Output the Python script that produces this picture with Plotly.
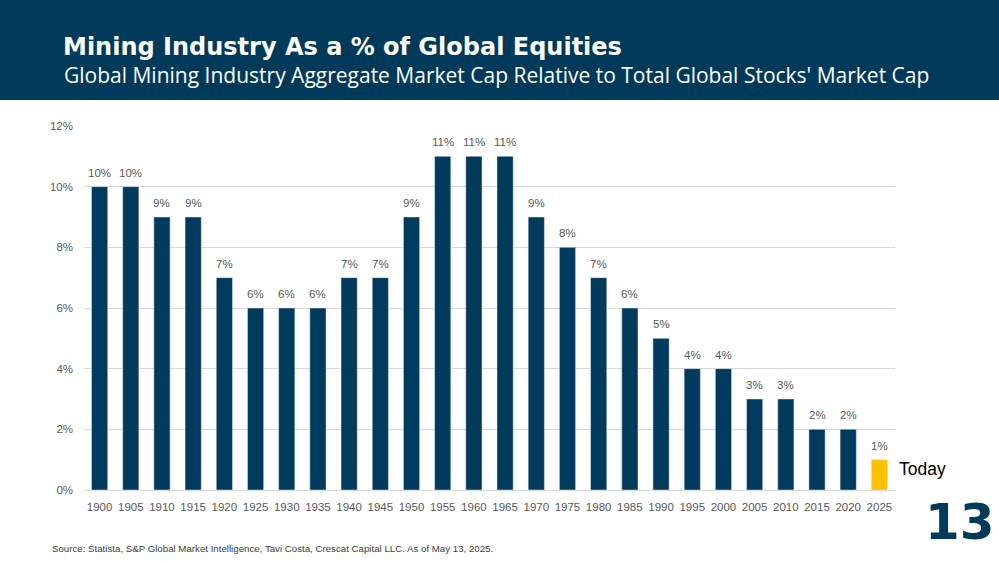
import plotly.graph_objects as go

years = ["1900","1905","1910","1915","1920","1925","1930","1935","1940","1945","1950","1955","1960",
         "1965","1970","1975","1980","1985","1990","1995","2000","2005","2010","2015","2020","2025"]
values = [10,10,9,9,7,6,6,6,7,7,9,11,11,11,9,8,7,6,5,4,4,3,3,2,2,1]
labels = [f"{v}%" for v in values]
colors = ["#003a5c"] * (len(values) - 1) + ["#ffc000"]
ytick_vals = [0, 2, 4, 6, 8, 10, 12]
ytick_text = [f"{v}%" for v in ytick_vals]

W, H = 999, 562
L, R, T, B = 84, 104, 126, 72
PW, PH = W - L - R, H - T - B

def px(x):
    return (x - L) / PW

def py(y):
    return (H - B - y) / PH

fig = go.Figure()
fig.add_trace(go.Bar(x=years, y=values, marker_color=colors, width=0.52, hoverinfo="x+y"))

# value labels above bars (category index positions on the x axis)
for i, (v, lab) in enumerate(zip(values, labels)):
    fig.add_annotation(x=i, y=v, xref="x", yref="y", text=lab, showarrow=False,
                       yanchor="middle", yshift=14,
                       font=dict(family="Liberation Sans, Arial", size=11.5, color="#595959"))

fig.update_layout(
    width=W, height=H, margin=dict(l=L, r=R, t=T, b=B),
    paper_bgcolor="white", plot_bgcolor="white", showlegend=False,
    xaxis=dict(type="category", range=[-0.5, len(years) - 0.5], showgrid=False, showline=True,
               linecolor="#d9d9d9", linewidth=1,
               ticks="", tickfont=dict(family="Liberation Sans, Arial", size=11.5, color="#595959"),
               ticklabelstandoff=6),
    yaxis=dict(range=[0, 12], tickmode="array", tickvals=ytick_vals, ticktext=ytick_text, showgrid=True,
               gridcolor="#d9d9d9", gridwidth=1, zeroline=False, ticks="",
               tickfont=dict(family="Liberation Sans, Arial", size=11.5, color="#595959"),
               ticklabelstandoff=10),
)

fig.add_shape(type="rect", xref="paper", yref="paper", x0=px(0), x1=px(W), y0=py(100), y1=py(0),
              fillcolor="#003a5a", line_width=0, layer="below")

fig.add_annotation(xref="paper", yref="paper", x=px(61), y=py(47), xanchor="left", yanchor="middle",
                   text="<b>Mining Industry As a % of Global Equities</b>", showarrow=False,
                   font=dict(family="DejaVu Sans", size=24, color="white"))
fig.add_annotation(xref="paper", yref="paper", x=px(62), y=py(75), xanchor="left", yanchor="middle",
                   text="Global Mining Industry Aggregate Market Cap Relative to Total Global Stocks' Market Cap",
                   showarrow=False, font=dict(family="Open Sans", size=21, color="white"))
fig.add_annotation(xref="paper", yref="paper", x=px(897), y=py(469), xanchor="left", yanchor="middle",
                   text="Today", showarrow=False,
                   font=dict(family="Liberation Sans, Arial", size=17.5, color="black"))
fig.add_annotation(xref="paper", yref="paper", x=px(960), y=py(522), xanchor="center", yanchor="middle",
                   text="<b>13</b>", showarrow=False,
                   font=dict(family="DejaVu Sans", size=50, color="#003a5a"))
fig.add_annotation(xref="paper", yref="paper", x=px(50), y=py(548), xanchor="left", yanchor="middle",
                   text="Source: Statista, S&P Global Market Intelligence, Tavi Costa, Crescat Capital LLC. As of May 13, 2025.",
                   showarrow=False, font=dict(family="Liberation Sans, Arial", size=9.7, color="#404040"))

fig.write_html("out.html")
